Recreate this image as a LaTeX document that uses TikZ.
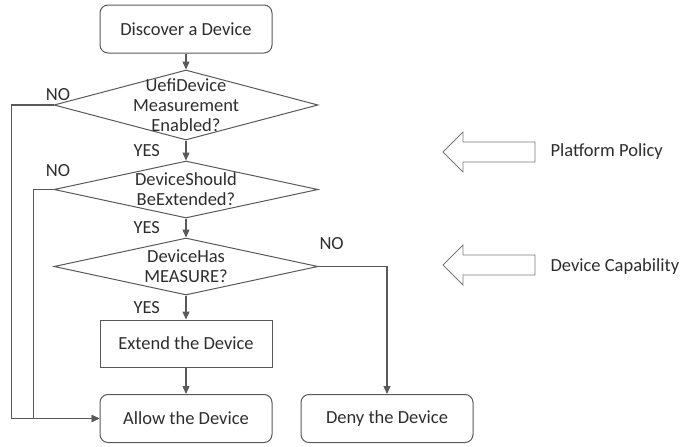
\documentclass[tikz,border=0pt]{standalone}
\usepackage{fontspec}
\setmainfont{Carlito}
\usetikzlibrary{positioning,shapes.geometric,arrows.meta}
\definecolor{linegray}{RGB}{89,89,89}
\definecolor{txtgray}{RGB}{45,45,45}

\begin{document}
\begin{tikzpicture}[x=1pt, y=1pt]
\tikzset{node distance=76pt,
    every node/.style={text=txtgray, font=\fontsize{18.5}{20}\selectfont},
    startstop/.style={rectangle, rounded corners=8pt, draw=linegray, line width=1pt, minimum width=172pt, minimum height=48pt},
    process/.style={rectangle, draw=linegray, line width=1pt, minimum width=172pt, minimum height=47pt},
    decision/.style={diamond, draw=linegray, line width=1pt, minimum width=264pt, inner sep=0pt},
    line/.style={draw=linegray, line width=1.4pt, -{Triangle[length=8pt, width=7pt]}},
    bigarrow/.style={draw=linegray!80, line width=0.8pt, fill=white}
}
  \useasboundingbox (0,0) rectangle (688,-447);

  \node[startstop] (discover) at (186,-29) {Discover a Device};
  \node[decision, minimum height=70pt, below of=discover, node distance=76pt,
    label={[align=center]center:UefiDevice\\Measurement\\Enabled?}] (measure) {};
  \node[decision, minimum height=57pt, below of=measure, node distance=84.5pt,
    label={[align=center]center:DeviceShould\\BeExtended?}] (should) {};
  \node[decision, minimum height=57pt, below of=should, node distance=77pt,
    label={[align=center]center:DeviceHas\\MEASURE?}] (has) {};
  \node[process, below of=has, node distance=77pt] (extend) {Extend the Device};
  \node[startstop, below of=extend, node distance=75pt] (allow) {Allow the Device};
  \node[startstop, right of=allow, node distance=201pt] (deny) {Deny the Device};

  \draw[line] (discover) -- (measure);
  \draw[line] (measure) -- node[left=22pt] (yes1) {YES} (should);
  \draw[line] (should) -- node[left=22pt] (yes2) {YES} (has);
  \draw[line] (has) -- node[left=22pt] (yes3) {YES} (extend);
  \draw[line] (extend) -- (allow);
  \draw[line] (measure.west) -- node[at start, above, xshift=4.5pt] (no1) {NO} ++(-42,0) |- (allow.west);
  \draw[line] (should.west) -- node[at start, above, xshift=4.5pt, yshift=9pt] (no2) {NO} ++(-20,0) |- (allow.west);
  \draw[line] (has.east) -| node[at start, above right, xshift=-3pt, yshift=13pt] (no3) {NO} (deny);

  \node[anchor=west] (policy) at (547,-152) {Platform Policy};
  \node[anchor=west] (capability) at (547,-267) {Device Capability};
  \draw[bigarrow] ([xshift=-104pt]policy.west) -- ++(20,20) -- ++(0,-10) -- ++(72,0)
    -- ++(0,-20) -- ++(-72,0) -- ++(0,-10) -- cycle;
  \draw[bigarrow] ([xshift=-104pt, yshift=2pt]capability.west) -- ++(20,20) -- ++(0,-10) -- ++(72,0)
    -- ++(0,-20) -- ++(-72,0) -- ++(0,-10) -- cycle;
\end{tikzpicture}
\end{document}
